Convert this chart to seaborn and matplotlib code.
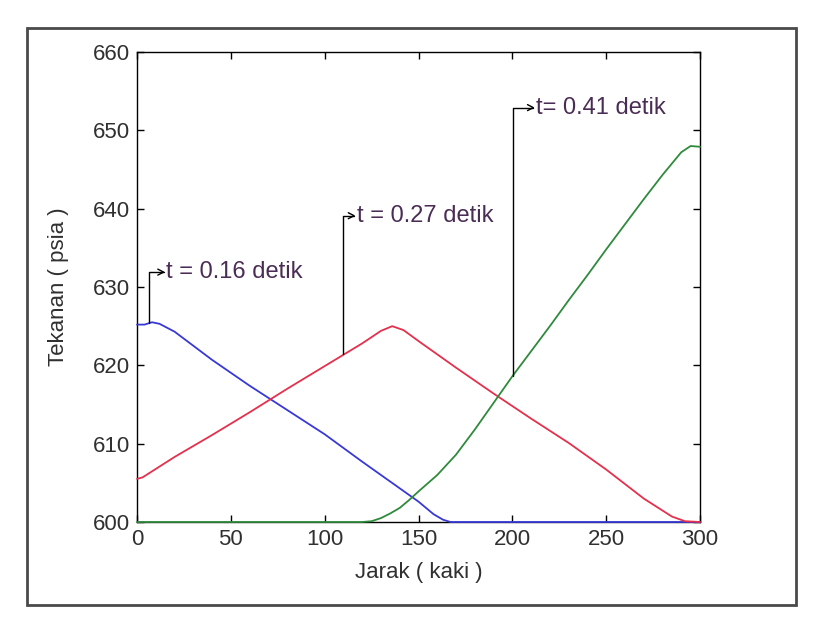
import numpy as np
import pandas as pd
import seaborn as sns
import matplotlib.pyplot as plt
from matplotlib.patches import Rectangle

# distance (ft) / pressure (psia)
x_016 = [0, 4, 8, 12, 20, 40, 60, 80, 100, 120, 140, 150, 158, 163, 167, 175, 185, 200, 250, 300]
p_016 = [625.2, 625.2, 625.5, 625.3, 624.3, 620.7, 617.4, 614.3, 611.2, 607.7, 604.3, 602.6,
         601.0, 600.3, 600.0, 600.0, 600.0, 600.0, 600.0, 600.0]

x_027 = [0, 3, 20, 40, 60, 80, 100, 120, 130, 136, 142, 150, 170, 190, 210, 230, 250, 270, 285, 292, 300]
p_027 = [605.5, 605.7, 608.3, 611.1, 614.0, 617.0, 619.9, 622.8, 624.4, 625.0, 624.5, 623.1,
         619.7, 616.4, 613.2, 610.1, 606.7, 603.0, 600.7, 600.1, 600.0]

x_041 = [0, 120, 125, 130, 135, 140, 145, 150, 160, 170, 180, 190, 200, 210, 220, 230, 240,
         250, 260, 270, 280, 290, 295, 300]
p_041 = [600.0, 600.0, 600.1, 600.5, 601.1, 601.8, 602.8, 603.9, 606.0, 608.6, 611.8, 615.2,
         618.6, 621.8, 625.0, 628.3, 631.5, 634.8, 638.0, 641.2, 644.3, 647.2, 648.0, 647.9]

labels = ["t = 0.16 detik", "t = 0.27 detik", "t= 0.41 detik"]
colors = ["#3838d8", "#e4304c", "#2f8a3c"]

df = pd.concat([
    pd.DataFrame({"jarak": x_016, "tekanan": p_016, "t": labels[0]}),
    pd.DataFrame({"jarak": x_027, "tekanan": p_027, "t": labels[1]}),
    pd.DataFrame({"jarak": x_041, "tekanan": p_041, "t": labels[2]}),
])

sns.set_theme(style="white")
plt.rcParams["font.family"] = ["Liberation Sans", "DejaVu Sans"]
plt.rcParams["xtick.direction"] = "in"
plt.rcParams["ytick.direction"] = "in"

fig = plt.figure(figsize=(8.2, 6.38), dpi=100)
ax = fig.add_axes([137 / 820, 1 - 522 / 638, 563 / 820, 470 / 638])

sns.lineplot(data=df, x="jarak", y="tekanan", hue="t", palette=colors,
             linewidth=1.3, legend=False, ax=ax, estimator=None, clip_on=False)

ax.set_xlim(0, 300)
ax.set_ylim(600, 660)
ax.set_xticks(range(0, 301, 50))
ax.set_yticks(range(600, 661, 10))
ax.tick_params(axis="both", labelsize=16, length=5, width=1, color="black",
               top=True, right=True, bottom=True, left=True, pad=5, labelcolor="#303030")
for s in ax.spines.values():
    s.set_color("black")
    s.set_linewidth(1.0)
    s.set_zorder(0.5)

ax.set_xlabel("Jarak ( kaki )", fontsize=16, color="#303030")
ax.set_ylabel("Tekanan ( psia )", fontsize=16, color="#303030")
ax.xaxis.set_label_coords(0.5, -0.085)
ax.yaxis.set_label_coords(-0.12, 0.5)

# annotations: (curve point x, y, corner height, arrow tip x)
ann = [(6.4, 625.4, 631.9, 15.0), (109.8, 621.5, 639.1, 116.5), (200.4, 618.6, 652.9, 212.0)]
for (px, py, cy, tx), lab in zip(ann, labels):
    ax.annotate("", xy=(tx, cy), xytext=(px, py),
                arrowprops=dict(arrowstyle="->,head_length=0.35,head_width=0.18", color="black", lw=1.0,
                                connectionstyle="angle,angleA=90,angleB=0,rad=0", shrinkA=0, shrinkB=0))
    ax.text(tx + 0.6, cy, lab, fontsize=17, color="#4a2d55", va="center", ha="left")

fig.patches.append(Rectangle((27 / 820, 1 - 605 / 638), 769 / 820, 577 / 638, transform=fig.transFigure,
                             fill=False, edgecolor="#4a4a4a", linewidth=2))

fig.savefig("out.png", dpi=100, facecolor="white")
